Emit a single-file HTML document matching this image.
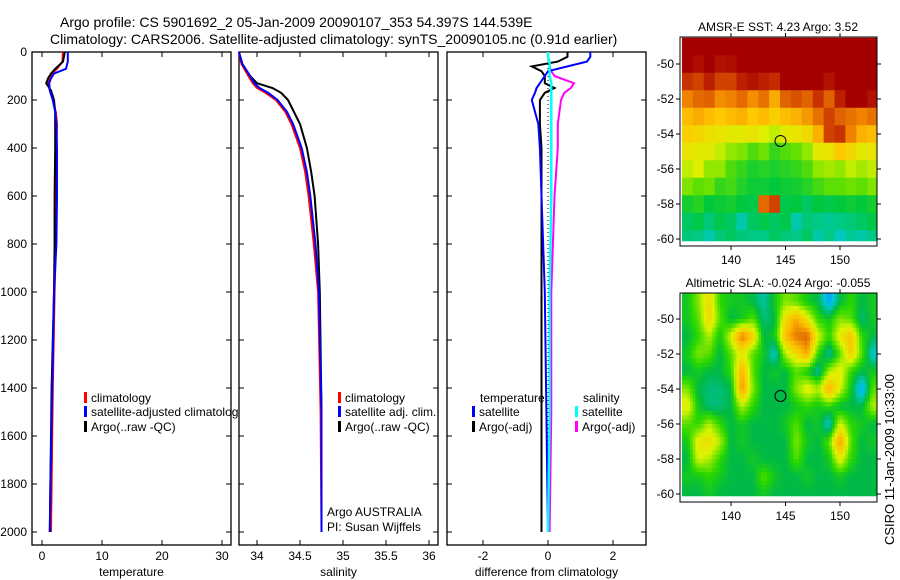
<!DOCTYPE html>
<html><head><meta charset="utf-8"><style>
body{margin:0;background:#fff;}
svg{display:block;font-family:"Liberation Sans",sans-serif;}
</style></head><body>
<svg id="fig" width="900" height="580" xmlns="http://www.w3.org/2000/svg">
<text x="60" y="27" font-size="14">Argo profile: CS 5901692_2 05-Jan-2009 20090107_353 54.397S 144.539E</text>
<text x="50" y="44" font-size="14">Climatology: CARS2006. Satellite-adjusted climatology: synTS_20090105.nc (0.91d earlier)</text>
<g id="maps"></g>
<g id="plots"></g>
<text transform="translate(894,545) rotate(-90)" font-size="13">CSIRO 11-Jan-2009 10:33:00</text>
</svg>
<script>
// ---- profile data ----
const tDepth=[0,40,70,90,110,130,160,200,250,300,400,600,800,1000,1400,1800,2000];
const tClim=[3.5,3.4,2.5,1.6,1.2,1.0,1.3,1.8,2.3,2.5,2.4,2.3,2.3,2.1,1.8,1.6,1.5];
const tSat=[4.3,4.3,4.0,2.0,1.5,1.2,1.3,1.8,2.2,2.4,2.5,2.5,2.4,2.0,1.7,1.4,1.3];
const tArgo=[3.8,3.5,2.2,1.5,1.0,0.7,1.5,2.0,2.2,2.2,2.2,2.1,2.1,2.0,1.6,1.4,1.3];
const sDepth=[0,50,100,130,150,170,200,250,300,400,500,600,800,1000,1500,2000];
const sClim=[33.79,33.82,33.9,33.95,34.0,34.1,34.22,34.33,34.4,34.5,34.56,34.6,34.66,34.71,34.74,34.75];
const sSat=[33.79,33.83,33.92,33.97,34.03,34.13,34.24,34.35,34.42,34.52,34.58,34.62,34.68,34.72,34.75,34.75];
const sArgo=[33.79,33.83,33.92,34.0,34.18,34.28,34.36,34.43,34.5,34.58,34.63,34.67,34.71,34.73,34.75,34.75];
const dDepth=[0,20,40,60,80,100,130,150,170,200,300,400,600,1000,1500,2000];
const dTsat=[1.3,1.3,1.2,0.6,0.0,-0.1,-0.25,-0.35,-0.4,-0.5,-0.3,-0.25,-0.2,-0.1,-0.05,0.0];
const dTargo=[0.6,0.6,0.3,-0.5,-0.2,-0.1,-0.1,0.2,-0.1,-0.25,-0.25,-0.2,-0.2,-0.2,-0.2,-0.2];
const dSsat=[0.0,0.0,0.05,0.05,0.05,0.05,0.1,0.1,0.1,0.1,0.1,0.1,0.1,0.05,0.05,0.0];
const dSargo=[0.0,0.0,0.05,0.05,0.1,0.2,0.8,0.7,0.5,0.4,0.3,0.3,0.2,0.1,0.1,0.05];
const tempTicks=[0,10,20,30], salTicks=[34,34.5,35,35.5,36], diffTicks=[-2,0,2];
const depthTicks=[0,200,400,600,800,1000,1200,1400,1600,1800,2000];
// SST grid (0..1 colour index), rows -49..-60, cols 136..153
const sst=[
[1,1,1,1,1,1,1,1,1,1,1,1,1,1,1,1,1,1],
[1,.98,1,.97,.98,1,1,1,1,1,1,1,1,1,1,1,1,1],
[.92,.9,.95,.9,.9,.95,.97,.95,.93,1,1,1,1,.97,1,1,1,1],
[.82,.85,.86,.8,.82,.85,.8,.84,.75,.86,.88,.86,.92,.86,.95,1,1,.97],
[.72,.75,.72,.7,.72,.74,.7,.72,.68,.72,.74,.78,.84,.9,.86,.84,.82,.84],
[.68,.66,.63,.62,.6,.6,.62,.58,.55,.6,.62,.65,.74,.9,.92,.82,.74,.72],
[.62,.6,.6,.55,.5,.48,.42,.46,.38,.42,.45,.5,.6,.62,.7,.66,.6,.62],
[.55,.58,.5,.5,.42,.38,.34,.36,.34,.36,.38,.42,.5,.52,.5,.55,.52,.55],
[.48,.44,.46,.38,.4,.35,.32,.32,.3,.32,.33,.36,.4,.44,.44,.46,.44,.48],
[.33,.36,.3,.32,.33,.3,.28,.85,.9,.28,.3,.25,.3,.28,.3,.32,.3,.33],
[.25,.28,.22,.28,.25,.15,.25,.28,.25,.28,.15,.22,.2,.18,.2,.22,.25,.28],
[.22,.2,.15,.22,.25,.22,.2,.2,.25,.22,.2,.25,.15,.2,.1,.18,.15,.2]];
// SLA grid (0 blue ..0.35 green .. 0.6 yellow .. 1 orange)
const sla=[
[.35,.5,.7,.4,.35,.35,.3,.2,.35,.5,.45,.35,.3,.05,.3,.4,.3,.35],
[.35,.45,.72,.45,.3,.35,.45,.25,.3,.7,.85,.65,.4,.35,.5,.45,.25,.35],
[.3,.4,.55,.35,.6,.95,.75,.3,.35,.8,.95,1,.6,.4,.65,.8,.4,.3],
[.35,.5,.45,.3,.45,.65,.45,.35,.15,.55,.7,.85,.4,.2,.45,.75,.45,.15],
[.3,.35,.3,.3,.4,.85,.45,.3,.35,.3,.45,.35,.2,.55,.65,.4,.3,.35],
[.5,.3,.25,.25,.3,.9,.5,.3,.3,.3,.5,.65,.55,.85,.6,.35,.05,.45],
[.65,.35,.25,.25,.3,.55,.4,.3,.3,.3,.35,.4,.35,.4,.3,.3,.3,.55],
[.45,.4,.55,.4,.3,.35,.3,.3,.3,.35,.45,.3,.35,.15,.6,.4,.35,.3],
[.35,.65,.7,.55,.3,.35,.3,.3,.3,.3,.5,.35,.3,.45,.9,.45,.3,.35],
[.3,.6,.55,.4,.3,.3,.35,.3,.3,.3,.45,.3,.3,.35,.65,.4,.3,.3],
[.35,.35,.4,.35,.3,.3,.3,.45,.35,.3,.3,.35,.3,.3,.35,.3,.3,.3],
[.3,.3,.35,.3,.3,.3,.3,.35,.3,.3,.3,.3,.3,.3,.3,.3,.3,.3]];
const lonTicks=[140,145,150], latTicks=[-50,-52,-54,-56,-58,-60];

const NS="http://www.w3.org/2000/svg";
function el(tag,attrs,parent,text){const e=document.createElementNS(NS,tag);for(const k in attrs)e.setAttribute(k,attrs[k]);if(text!==undefined)e.textContent=text;parent.appendChild(e);return e;}
const plots=document.getElementById('plots'), maps=document.getElementById('maps');
const Y0=52,Y1=545, yD=d=>52+0.24*d;

function panel(name,x0,x1,xs,ticks,label,fmt){
  const g=el('g',{},plots);
  
  
  const fr=el('rect',{x:x0,y:Y0,width:x1-x0,height:Y1-Y0,fill:'#fff',stroke:'#000','stroke-width':1.3},g);
  
  
  ticks.forEach(t=>{const x=xs(t);
    el('line',{x1:x,x2:x,y1:Y1,y2:Y1-5,stroke:'#000'},g);el('line',{x1:x,x2:x,y1:Y0,y2:Y0+5,stroke:'#000'},g);
    const tl=el('text',{x:x,y:Y1+15,'font-size':12,'text-anchor':'middle'},g,fmt(t));
    
    });
  depthTicks.forEach(d=>{const y=yD(d);el('line',{x1:x0,x2:x0+5,y1:y,y2:y,stroke:'#000'},g);el('line',{x1:x1,x2:x1-5,y1:y,y2:y,stroke:'#000'},g);});
  const xl=el('text',{x:(x0+x1)/2,y:576,'font-size':12,'text-anchor':'middle'},g,label);
  
  
  return g;
}
function line(g,name,xs,vals,depths,color,w){
  const pts=vals.map((v,i)=>xs(v).toFixed(1)+','+yD(depths[i]).toFixed(1)).join(' ');
  const p=el('polyline',{points:pts,fill:'none',stroke:color,'stroke-width':w||2},g);
  
  
}
function legend(g,x,y,color,txt,name){
  el('rect',{x:x,y:y-10,width:3,height:11,fill:color},g);
  const t=el('text',{x:x+7,y:y,'font-size':12},g,txt);
  
  
}
// temperature
const xT=t=>42+6*t;
const gT=panel('temperature',32,231,xT,tempTicks,'temperature',v=>v);
depthTicks.forEach(d=>{const t=el('text',{x:27,y:yD(d)+4,'font-size':12,'text-anchor':'end'},gT,d);
  
  });
line(gT,'temp-climatology-line',xT,tClim,tDepth,'#f00');
line(gT,'temp-argo-line',xT,tArgo,tDepth,'#000');
line(gT,'temp-satellite-line',xT,tSat,tDepth,'#00f');
legend(gT,84,402,'#f00','climatology','legend-climatology');
legend(gT,84,416,'#00f','satellite-adjusted climatology','legend-satellite-adjusted');
legend(gT,84,431,'#000','Argo(..raw -QC)','legend-argo');
// salinity
const xS=s=>257+86*(s-34);
const gS=panel('salinity',239,438,xS,salTicks,'salinity',v=>v);
line(gS,'sal-climatology-line',xS,sClim,sDepth,'#f00');
line(gS,'sal-argo-line',xS,sArgo,sDepth,'#000');
line(gS,'sal-satellite-line',xS,sSat,sDepth,'#00f');
legend(gS,338,402,'#f00','climatology','legend-sal-climatology');
legend(gS,338,416,'#00f','satellite adj. clim.','legend-sal-satellite');
legend(gS,338,431,'#000','Argo(..raw -QC)','legend-sal-argo');
const a1=el('text',{x:327,y:516,'font-size':12},gS,'Argo AUSTRALIA');
const a2=el('text',{x:327,y:531,'font-size':12},gS,'PI: Susan Wijffels');
// difference
const xDf=d=>548+32.5*d;
const gD=panel('difference',447,646,xDf,diffTicks,'difference from climatology',v=>v===0?'0':v);
el('line',{x1:xDf(0),x2:xDf(0),y1:Y0,y2:yD(2000),stroke:'#000','stroke-dasharray':'1,3'},gD);
line(gD,'diff-sal-argo-line',xDf,dSargo,dDepth,'#f0f');
line(gD,'diff-temp-argo-line',xDf,dTargo,dDepth,'#000');
line(gD,'diff-temp-sat-line',xDf,dTsat,dDepth,'#00f');
line(gD,'diff-sal-sat-line',xDf,dSsat,dDepth,'#0ff',2.5);
const lt=el('text',{x:480,y:402,'font-size':12},gD,'temperature');
const ls=el('text',{x:583,y:402,'font-size':12},gD,'salinity');
legend(gD,472,416,'#00f','satellite','legend-temp-satellite');
legend(gD,472,431,'#000','Argo(-adj)','legend-temp-argo');
legend(gD,575,416,'#0ff','satellite','legend-sal-satellite-diff');
legend(gD,575,431,'#f0f','Argo(-adj)','legend-sal-argo-diff');

// maps
function lerp(a,b,t){return a.map((v,i)=>Math.round(v+(b[i]-v)*t));}
function scale(stops,v){for(let i=1;i<stops.length;i++){if(v<=stops[i][0]){const t=(v-stops[i-1][0])/(stops[i][0]-stops[i-1][0]);const c=lerp(stops[i-1][1],stops[i][1],t);return `rgb(${c})`;}}return `rgb(${stops[stops.length-1][1]})`;}
const sstStops=[[0,[0,200,230]],[.15,[0,200,170]],[.3,[0,200,60]],[.45,[100,225,0]],[.58,[220,240,0]],[.7,[255,200,0]],[.82,[240,130,0]],[.92,[200,50,0]],[1,[165,0,0]]];
const slaStops=[[0,[0,140,255]],[.15,[0,200,220]],[.3,[0,185,70]],[.4,[40,215,0]],[.6,[220,245,0]],[.8,[255,190,0]],[1,[220,100,0]]];
function sample(grid,fr,fc){ // bilinear for smooth rendering
  const R=grid.length-1,C=grid[0].length-1;
  fr=Math.max(0,Math.min(R,fr));fc=Math.max(0,Math.min(C,fc));
  const r0=Math.floor(fr),c0=Math.floor(fc),r1=Math.min(R,r0+1),c1=Math.min(C,c0+1),tr=fr-r0,tc=fc-c0;
  return (grid[r0][c0]*(1-tc)+grid[r0][c1]*tc)*(1-tr)+(grid[r1][c0]*(1-tc)+grid[r1][c1]*tc)*tr;
}
function map(name,grid,stops,top,bottom,latY,title,smooth){
  const L=680,R=877,lonX=lo=>731+10.9*(lo-140);
  const g=el('g',{},maps);
  
  
  const ttl=el('text',{x:778,y:top-6,'font-size':12,'text-anchor':'middle'},g,title);
  
  const cells=el('g',{},g);
  const dataBottom=latY(-60.1);
  const sub=smooth?4:1;
  grid.forEach((row,r)=>row.forEach((v,c)=>{
    for(let i=0;i<sub;i++)for(let j=0;j<sub;j++){
      const la0=-48.5-r-i/sub, la1=la0-1/sub, lo0=136+c-0.5+j/sub, lo1=lo0+1/sub;
      const y0=Math.max(top,latY(la0)), y1=Math.min(dataBottom,latY(la1));
      const x0=Math.max(L,lonX(lo0)), x1=Math.min(R,lonX(lo1));
      if(y1<=y0||x1<=x0)continue;
      const val=smooth?sample(grid,r+(i+0.5)/sub-0.5,c+(j+0.5)/sub-0.5):v;
      const cell=el('rect',{x:x0,y:y0,width:x1-x0+0.5,height:y1-y0+0.5,fill:scale(stops,val)},cells);
      
      
    }
  }));
  el('rect',{x:L,y:top,width:R-L,height:bottom-top,fill:'none',stroke:'#000'},g);
  lonTicks.forEach(lo=>{const x=lonX(lo);el('line',{x1:x,x2:x,y1:bottom,y2:bottom+4,stroke:'#000'},g);el('line',{x1:x,x2:x,y1:top,y2:top-4,stroke:'#000'},g);
    const t=el('text',{x:x,y:bottom+18,'font-size':12,'text-anchor':'middle'},g,lo);});
  latTicks.forEach(la=>{const y=latY(la);el('line',{x1:L-4,x2:L,y1:y,y2:y,stroke:'#000'},g);el('line',{x1:R,x2:R+4,y1:y,y2:y,stroke:'#000'},g);
    const t=el('text',{x:L-6,y:y+4,'font-size':12,'text-anchor':'end'},g,la);});
  const m=el('circle',{cx:lonX(144.539),cy:latY(-54.397),r:5.5,fill:'none',stroke:'#000'},g);
  
}
map('sst-map',sst,sstStops,37,246,la=>64+17.5*(-50-la),'AMSR-E SST: 4.23 Argo: 3.52',false);
map('sla-map',sla,slaStops,293,502,la=>319+17.5*(-50-la),'Altimetric SLA: -0.024  Argo: -0.055',true);
</script>
</body></html>
